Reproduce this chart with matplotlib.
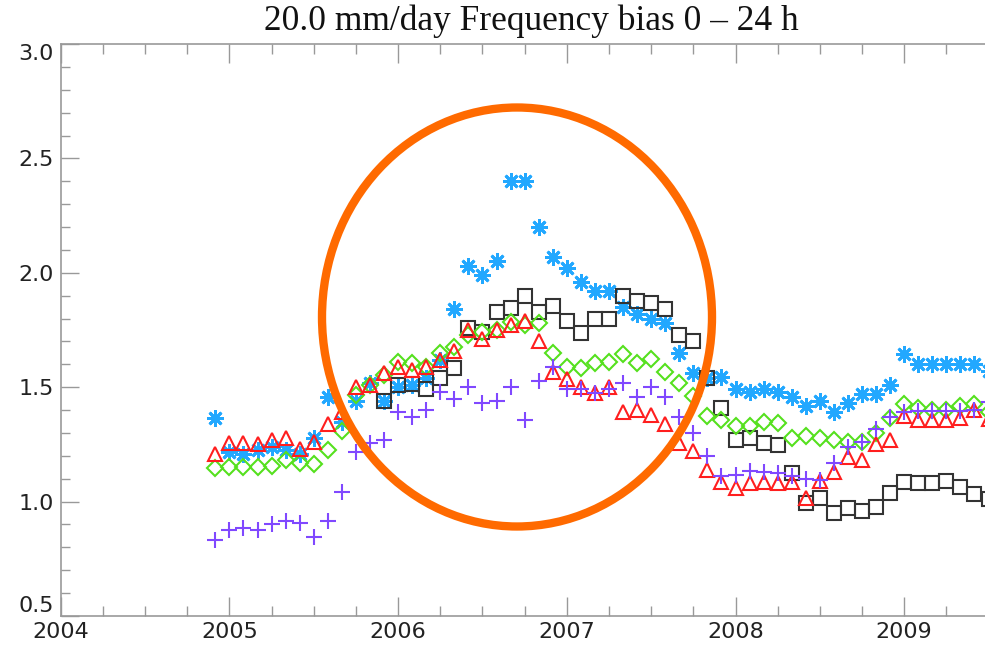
import numpy as np
import matplotlib
matplotlib.use("Agg")
import matplotlib.pyplot as plt
from matplotlib.patches import Ellipse
from matplotlib.ticker import MultipleLocator, FixedLocator

# monthly samples, first one Dec 2004
start_year = 2004
start_month = 12
n_months = 56
months = np.arange(n_months)
t = start_year + (start_month - 1 + months) / 12.0

year_ticks = [2004, 2005, 2006, 2007, 2008, 2009]
y_ticks = [0.5, 1.0, 1.5, 2.0, 2.5, 3.0]

# blue asterisks
blue = [1.365, 1.217, 1.21, 1.225, 1.24, 1.225, 1.21, 1.28, 1.457, 1.35,
        1.44, 1.52, 1.44, 1.50, 1.51, 1.54, 1.62, 1.84, 2.03, 1.99,
        2.05, 2.40, 2.40, 2.20, 2.07, 2.02, 1.96, 1.92, 1.92, 1.85,
        1.82, 1.80, 1.78, 1.65, 1.56, 1.54, 1.545, 1.49, 1.48, 1.49,
        1.48, 1.457, 1.42, 1.44, 1.39, 1.43, 1.47, 1.47, 1.51, 1.645,
        1.60, 1.60, 1.60, 1.60, 1.60, 1.57]

# black squares (start in month 12)
black_start = 12
black = [1.44, 1.51, 1.515, 1.49, 1.54, 1.585, 1.76, 1.74,
         1.83, 1.845, 1.90, 1.83, 1.855, 1.79, 1.735, 1.80, 1.80, 1.90,
         1.875, 1.87, 1.84, 1.73, 1.70, 1.54, 1.41, 1.27, 1.28, 1.256,
         1.247, 1.125, 0.994, 1.016, 0.95, 0.97, 0.96, 0.976, 1.037, 1.086,
         1.08, 1.08, 1.09, 1.064, 1.033, 1.01]

# green diamonds
green = [1.147, 1.15, 1.15, 1.15, 1.155, 1.18, 1.17, 1.165, 1.225, 1.31,
         1.465, 1.51, 1.555, 1.61, 1.605, 1.59, 1.65, 1.675, 1.73, 1.74,
         1.75, 1.785, 1.77, 1.78, 1.65, 1.59, 1.585, 1.605, 1.61, 1.645,
         1.605, 1.625, 1.567, 1.52, 1.46, 1.375, 1.355, 1.33, 1.33, 1.35,
         1.345, 1.28, 1.285, 1.28, 1.27, 1.26, 1.26, 1.30, 1.365, 1.425,
         1.41, 1.40, 1.40, 1.42, 1.425, 1.39]

# red triangles
red = [1.208, 1.256, 1.256, 1.25, 1.27, 1.28, 1.23, 1.26, 1.34, 1.39,
       1.50, 1.51, 1.56, 1.59, 1.575, 1.59, 1.62, 1.66, 1.75, 1.71,
       1.75, 1.77, 1.79, 1.70, 1.567, 1.535, 1.50, 1.475, 1.50, 1.39,
       1.40, 1.38, 1.34, 1.256, 1.22, 1.14, 1.085, 1.06, 1.08, 1.085,
       1.08, 1.085, 1.015, 1.09, 1.13, 1.195, 1.18, 1.25, 1.27, 1.374,
       1.355, 1.355, 1.355, 1.365, 1.40, 1.36]

# purple plus
purple = [0.83, 0.875, 0.885, 0.876, 0.90, 0.915, 0.906, 0.845, 0.915, 1.04,
          1.215, 1.256, 1.27, 1.39, 1.37, 1.40, 1.48, 1.45, 1.50, 1.43,
          1.44, 1.50, 1.357, 1.527, 1.59, 1.49, 1.49, 1.475, 1.49, 1.52,
          1.457, 1.50, 1.457, 1.37, 1.30, 1.20, 1.11, 1.115, 1.135, 1.13,
          1.125, 1.11, 1.10, 1.095, 1.17, 1.24, 1.26, 1.317, 1.37, 1.39,
          1.395, 1.395, 1.395, 1.395, 1.40, 1.435]

W, H = 985, 646
fig = plt.figure(figsize=(W / 100, H / 100), dpi=100)

x_left = 60.7
px_per_year = 168.7
# axes runs past the right edge of the picture (cut off like the original)
ax = fig.add_axes([x_left / W, 30 / H, 6 * px_per_year / W, 572 / H])
ax.set_xlim(2004, 2010)
ax.set_ylim(0.5, 3.0)

ms = 10
mew = 1.5
ax.plot(t, blue, ls='none', marker=(8, 2, 0), ms=ms + 2, mew=2.0, color='#22a8ff')
ax.plot(t[black_start:black_start + len(black)], black, ls='none', marker='s', ms=ms + 0.5,
        mew=mew, mfc='none', mec='#333333')
ax.plot(t, green, ls='none', marker='D', ms=ms - 2, mew=mew, mfc='none', mec='#55e01e')
ax.plot(t, red, ls='none', marker='^', ms=ms, mew=mew, mfc='none', mec='#ff1e1e')
ax.plot(t, purple, ls='none', marker='+', ms=ms + 2, mew=mew, color='#8048ff')

ax.xaxis.set_major_locator(FixedLocator(year_ticks))
ax.xaxis.set_minor_locator(MultipleLocator(0.25))
ax.yaxis.set_major_locator(FixedLocator(y_ticks))
ax.yaxis.set_minor_locator(MultipleLocator(0.1))
ax.set_xticklabels([str(y) for y in year_ticks])
ax.set_yticklabels(['%.1f' % v for v in y_ticks])

for s in ax.spines.values():
    s.set_color('#999999')
    s.set_linewidth(1.2)
ax.tick_params(which='both', direction='in', top=True, right=False, color='#999999',
               labelsize=16, labelcolor='#222222', width=1.0)
ax.tick_params(axis='x', which='major', length=14, pad=4)
ax.tick_params(axis='x', which='minor', length=7)
ax.tick_params(axis='y', which='major', length=13, pad=5)
ax.tick_params(axis='y', which='minor', length=6.5)

# end labels pushed inside, as in the original
ylabs = ax.get_yticklabels()
ylabs[0].set_va('bottom')
ylabs[-1].set_va('top')

fig.text(531 / W, 1 - 21 / H, '20.0 mm/day Frequency bias 0 \u2013 24 h', ha='center', va='center',
         family='Liberation Serif', fontsize=25.5, color='#111111')

circle = Ellipse((517 / W, 1 - 317 / H), 390 / W, 419 / H, transform=fig.transFigure,
                 fill=False, ec='#ff6a00', lw=6)
fig.patches.append(circle)

fig.savefig('out.png', dpi=100)
